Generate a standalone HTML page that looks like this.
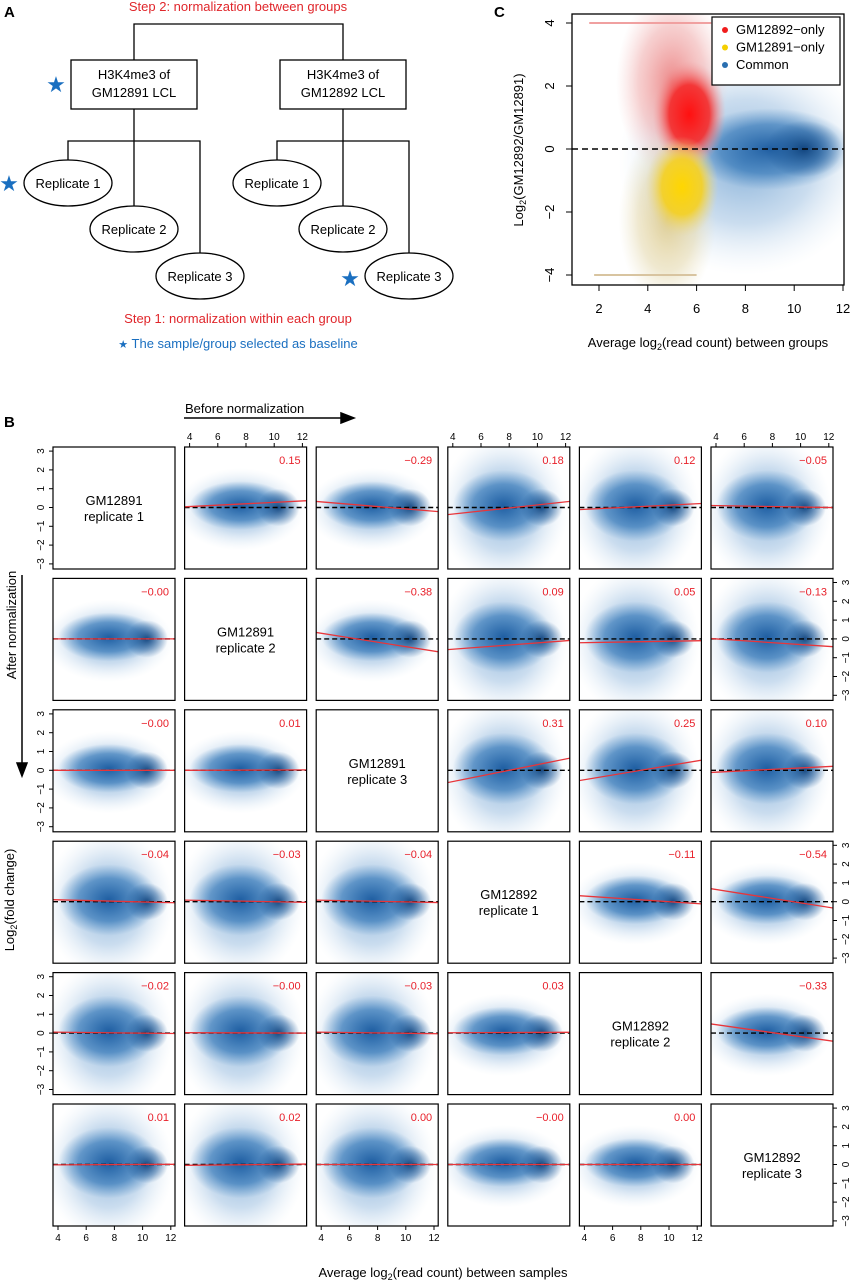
<!DOCTYPE html>
<html><head><meta charset="utf-8">
<style>
html,body{margin:0;padding:0;background:#fff;}
svg{display:block;font-family:"Liberation Sans",Arial,sans-serif;}
</style></head>
<body>
<svg id="fig" width="850" height="1280" viewBox="0 0 850 1280" xmlns="http://www.w3.org/2000/svg">
<defs>
<radialGradient id="gLight"><stop offset="0" stop-color="#4f8cc6" stop-opacity="0.7"/><stop offset="0.55" stop-color="#8ab3db" stop-opacity="0.45"/><stop offset="1" stop-color="#d2e3f2" stop-opacity="0"/></radialGradient>
<radialGradient id="gCore"><stop offset="0" stop-color="#1a5a9f" stop-opacity="0.95"/><stop offset="0.6" stop-color="#2f74b6" stop-opacity="0.65"/><stop offset="1" stop-color="#4a8ac4" stop-opacity="0"/></radialGradient>
<radialGradient id="gSpot"><stop offset="0" stop-color="#0b3e78" stop-opacity="0.9"/><stop offset="0.6" stop-color="#1b5797" stop-opacity="0.45"/><stop offset="1" stop-color="#1b5797" stop-opacity="0"/></radialGradient>
<radialGradient id="gRed"><stop offset="0" stop-color="#ff1010" stop-opacity="1"/><stop offset="0.55" stop-color="#f42a2a" stop-opacity="0.9"/><stop offset="1" stop-color="#f4a0a0" stop-opacity="0"/></radialGradient>
<radialGradient id="gPink"><stop offset="0" stop-color="#e86a6a" stop-opacity="0.8"/><stop offset="0.6" stop-color="#eea0a0" stop-opacity="0.5"/><stop offset="1" stop-color="#f2c0c0" stop-opacity="0"/></radialGradient>
<radialGradient id="gYel"><stop offset="0" stop-color="#ffd600" stop-opacity="1"/><stop offset="0.55" stop-color="#f5d020" stop-opacity="0.9"/><stop offset="1" stop-color="#e8d99a" stop-opacity="0"/></radialGradient>
<radialGradient id="gTan"><stop offset="0" stop-color="#d8c27a" stop-opacity="0.8"/><stop offset="0.6" stop-color="#e0d2a0" stop-opacity="0.5"/><stop offset="1" stop-color="#e8e0c0" stop-opacity="0"/></radialGradient>
</defs>

<!-- Panel A -->
<g font-size="13" fill="#000">
<text x="4" y="17" font-weight="bold" font-size="15">A</text>
<text x="238" y="11" fill="#e0262b" text-anchor="middle">Step 2: normalization between groups</text>
<path d="M134 60V24H343V60" fill="none" stroke="#000" stroke-width="1.3"/>
<rect x="71" y="60" width="126" height="49" fill="#fff" stroke="#000" stroke-width="1.3"/>
<text x="134" y="79" text-anchor="middle">H3K4me3 of</text><text x="134" y="97" text-anchor="middle">GM12891 LCL</text>
<rect x="280" y="60" width="126" height="49" fill="#fff" stroke="#000" stroke-width="1.3"/>
<text x="343" y="79" text-anchor="middle">H3K4me3 of</text><text x="343" y="97" text-anchor="middle">GM12892 LCL</text>
<path d="M134 109V208M68 161V141H200V255" fill="none" stroke="#000" stroke-width="1.3"/>
<path d="M343 109V208M277 161V141H409V255" fill="none" stroke="#000" stroke-width="1.3"/>
<g><ellipse cx="68" cy="183" rx="44" ry="23" fill="#fff" stroke="#000" stroke-width="1.3"/><text x="68" y="188" text-anchor="middle">Replicate 1</text></g>
<g><ellipse cx="134" cy="229" rx="44" ry="23" fill="#fff" stroke="#000" stroke-width="1.3"/><text x="134" y="234" text-anchor="middle">Replicate 2</text></g>
<g><ellipse cx="200" cy="276" rx="44" ry="23" fill="#fff" stroke="#000" stroke-width="1.3"/><text x="200" y="281" text-anchor="middle">Replicate 3</text></g>
<g><ellipse cx="277" cy="183" rx="44" ry="23" fill="#fff" stroke="#000" stroke-width="1.3"/><text x="277" y="188" text-anchor="middle">Replicate 1</text></g>
<g><ellipse cx="343" cy="229" rx="44" ry="23" fill="#fff" stroke="#000" stroke-width="1.3"/><text x="343" y="234" text-anchor="middle">Replicate 2</text></g>
<g><ellipse cx="409" cy="276" rx="44" ry="23" fill="#fff" stroke="#000" stroke-width="1.3"/><text x="409" y="281" text-anchor="middle">Replicate 3</text></g>
<text x="56" y="92" fill="#1a6fc0" font-size="22" text-anchor="middle">★</text>
<text x="9" y="191" fill="#1a6fc0" font-size="22" text-anchor="middle">★</text>
<text x="350" y="286" fill="#1a6fc0" font-size="22" text-anchor="middle">★</text>
<text x="238" y="323" fill="#e0262b" text-anchor="middle">Step 1: normalization within each group</text>
<text x="238" y="348" fill="#1a6fc0" text-anchor="middle"><tspan font-size="11">★</tspan> The sample/group selected as baseline</text>
</g>

<g id="panelC"></g>
<g id="panelB"></g>
</svg>

<script>
// ---------- Panel C data ----------
const cXTicks = [2, 4, 6, 8, 10, 12];
const cYTicks = [-4, -2, 0, 2, 4];
const cLegendLabels = ["GM12892\u2212only", "GM12891\u2212only", "Common"];
const cLegendColors = ["#f01c1c", "#f5cf00", "#2a6fb0"];
const cClusterX = [5.8, 5.4, 10.4];
const cClusterY = [0.9, -1.0, 0.0];

// ---------- Panel B data ----------
const bLabels = [
 ["", "0.15", "\u22120.29", "0.18", "0.12", "\u22120.05"],
 ["\u22120.00", "", "\u22120.38", "0.09", "0.05", "\u22120.13"],
 ["\u22120.00", "0.01", "", "0.31", "0.25", "0.10"],
 ["\u22120.04", "\u22120.03", "\u22120.04", "", "\u22120.11", "\u22120.54"],
 ["\u22120.02", "\u22120.00", "\u22120.03", "0.03", "", "\u22120.33"],
 ["0.01", "0.02", "0.00", "\u22120.00", "0.00", ""]
];
const bRedLeft = [
 [0, 0.05, 0.30, -0.35, -0.10, 0.10],
 [0, 0, 0.30, -0.55, -0.20, 0.00],
 [0, 0, 0, -0.60, -0.50, -0.10],
 [0.10, 0.08, 0.08, 0, 0.30, 0.65],
 [0.05, 0.02, 0.05, 0.02, 0, 0.45],
 [-0.02, -0.04, 0.00, 0.00, 0.00, 0]
];
const bRedRight = [
 [0, 0.35, -0.20, 0.30, 0.20, 0.00],
 [0, 0, -0.65, -0.10, -0.10, -0.40],
 [0, 0.02, 0, 0.60, 0.50, 0.20],
 [-0.05, -0.03, -0.04, 0, -0.10, -0.30],
 [-0.02, 0.00, -0.03, 0.04, 0, -0.40],
 [0.01, 0.02, 0.00, 0.00, 0.00, 0]
];
const bWide = [
 [0, 0, 0, 1, 1, 1],
 [0, 0, 0, 1, 1, 1],
 [0, 0, 0, 1, 1, 1],
 [1, 1, 1, 0, 0, 0],
 [1, 1, 1, 0, 0, 0],
 [1, 1, 1, 0, 0, 0]
];
const bDiagNames = ["GM12891", "GM12891", "GM12891", "GM12892", "GM12892", "GM12892"];
const bDiagReps = ["replicate 1", "replicate 2", "replicate 3", "replicate 1", "replicate 2", "replicate 3"];
const bXTicks = [4, 6, 8, 10, 12];
const bYTicks = [-3, -2, -1, 0, 1, 2, 3];

const NS = "http://www.w3.org/2000/svg";
function mk(parent, tag, attrs, txt) {
  const e = document.createElementNS(NS, tag);
  for (const k in attrs) e.setAttribute(k, attrs[k]);
  if (txt !== undefined) e.textContent = txt;
  parent.appendChild(e);
  return e;
}

// ---------- Panel C ----------
(function () {
  const g = document.getElementById('panelC');
  const L = 572, R = 844, T = 14, B = 285;
  const xs = v => 599 + (v - 2) * 24.4;
  const ys = v => 149 - v * 31.5;
  const t = mk(g, 'text', {x: 494, y: 17, 'font-size': 15, 'font-weight': 'bold'}, 'C');
  
  
  const clipC = mk(document.querySelector('defs'), 'clipPath', {id: 'clipC'});
  mk(clipC, 'rect', {x: L, y: T, width: R - L, height: B - T});
  const plot = mk(g, 'g', {'clip-path': 'url(#clipC)'});
  
  
  const cloud = mk(plot, 'ellipse', {cx: xs(8.0), cy: ys(-0.4), rx: 5.2 * 24.4, ry: 3.6 * 31.5, fill: 'url(#gLight)'});
  
  
  const core = mk(plot, 'ellipse', {cx: xs(cClusterX[2] - 1.4), cy: ys(cClusterY[2]), rx: 3.4 * 24.4, ry: 1.3 * 31.5, fill: 'url(#gCore)'});
  
  
  const spot = mk(plot, 'ellipse', {cx: xs(cClusterX[2]), cy: ys(cClusterY[2]), rx: 1.6 * 24.4, ry: 0.9 * 31.5, fill: 'url(#gSpot)'});
  
  
  const pink = mk(plot, 'ellipse', {cx: xs(cClusterX[0] - 0.8), cy: ys(cClusterY[0] + 1.2), rx: 2.3 * 24.4, ry: 3.0 * 31.5, fill: 'url(#gPink)'});
  
  
  const tan = mk(plot, 'ellipse', {cx: xs(cClusterX[1] - 0.6), cy: ys(cClusterY[1] - 1.2), rx: 2.0 * 24.4, ry: 2.8 * 31.5, fill: 'url(#gTan)'});
  
  
  const red = mk(plot, 'ellipse', {cx: xs(cClusterX[0] - 0.1), cy: ys(cClusterY[0] + 0.2), rx: 1.5 * 24.4, ry: 1.7 * 31.5, fill: 'url(#gRed)'});
  
  
  const yel = mk(plot, 'ellipse', {cx: xs(cClusterX[1]), cy: ys(cClusterY[1] - 0.2), rx: 1.5 * 24.4, ry: 1.6 * 31.5, fill: 'url(#gYel)'});
  
  
  const capTop = mk(plot, 'line', {x1: xs(1.6), x2: xs(6.6), y1: ys(4), y2: ys(4), stroke: '#f0a0a0', 'stroke-width': 2});
  
  
  const capBot = mk(plot, 'line', {x1: xs(1.8), x2: xs(6.0), y1: ys(-4), y2: ys(-4), stroke: '#d8c4a0', 'stroke-width': 2});
  
  
  const zero = mk(g, 'line', {x1: L, x2: R, y1: ys(0), y2: ys(0), stroke: '#000', 'stroke-width': 1.5, 'stroke-dasharray': '6,4'});
  
  
  const box = mk(g, 'rect', {x: L, y: T, width: R - L, height: B - T, fill: 'none', stroke: '#000', 'stroke-width': 1.3});
  
  
  cXTicks.forEach(v => {
    mk(g, 'line', {x1: xs(v), x2: xs(v), y1: B, y2: B + 6, stroke: '#000'});
    const tl = mk(g, 'text', {x: xs(v), y: 313, 'font-size': 13, 'text-anchor': 'middle'}, String(v));
    
    
  });
  cYTicks.forEach(v => {
    mk(g, 'line', {x1: L, x2: L - 6, y1: ys(v), y2: ys(v), stroke: '#000'});
    const s = v < 0 ? '\u2212' + Math.abs(v) : String(v);
    const tl = mk(g, 'text', {x: 0, y: 0, 'font-size': 13, 'text-anchor': 'middle', transform: `translate(554,${ys(v)}) rotate(-90)`}, s);
    
    
  });
  const xt = mk(g, 'text', {x: 708, y: 347, 'font-size': 13, 'text-anchor': 'middle'});
  
  
  xt.innerHTML = 'Average log<tspan font-size="9" dy="3">2</tspan><tspan dy="-3">(read count) between groups</tspan>';
  const yt = mk(g, 'text', {x: 0, y: 0, 'font-size': 13, 'text-anchor': 'middle', transform: 'translate(523,150) rotate(-90)'});
  
  
  yt.innerHTML = 'Log<tspan font-size="9" dy="3">2</tspan><tspan dy="-3">(GM12892/GM12891)</tspan>';
  const lg = mk(g, 'g', {});
  
  
  mk(lg, 'rect', {x: 712, y: 17, width: 128, height: 68, fill: '#fff', stroke: '#000', 'stroke-width': 1.2});
  cLegendLabels.forEach((lab, i) => {
    const e = mk(lg, 'g', {});
    
    
    mk(e, 'circle', {cx: 725, cy: 34 + i * 17.5 - 4, r: 3, fill: cLegendColors[i]});
    mk(e, 'text', {x: 736, y: 34 + i * 17.5, 'font-size': 13}, lab);
  });
})();

// ---------- Panel B ----------
(function () {
  const g = document.getElementById('panelB');
  const W = 122, H = 122;
  const colX = c => 53 + c * 131.6;
  const rowY = r => 447 + r * 131.4;
  const px = (c, v) => colX(c) + 5 + (v - 4) * 14.1;
  const py = (r, v) => rowY(r) + 60.5 - v * 18.8;
  const defs = document.querySelector('defs');

  const bl = mk(g, 'text', {x: 4, y: 427, 'font-size': 15, 'font-weight': 'bold'}, 'B');
  
  
  const bn = mk(g, 'text', {x: 185, y: 413, 'font-size': 13}, 'Before normalization');
  
  
  const ba = mk(g, 'path', {d: 'M184 418H343M341 413L354 418L341 423Z', stroke: '#000', 'stroke-width': 1.5, fill: '#000'});
  
  
  const an = mk(g, 'text', {x: 0, y: 0, 'font-size': 13, 'text-anchor': 'middle', transform: 'translate(16,625) rotate(-90)'}, 'After normalization');
  
  
  const aa = mk(g, 'path', {d: 'M22 575V765M17 763L22 776L27 763Z', stroke: '#000', 'stroke-width': 1.5, fill: '#000'});
  
  
  const ylab = mk(g, 'text', {x: 0, y: 0, 'font-size': 13, 'text-anchor': 'middle', transform: 'translate(14,900) rotate(-90)'});
  
  
  ylab.innerHTML = 'Log<tspan font-size="9" dy="3">2</tspan><tspan dy="-3">(fold change)</tspan>';
  const xlab = mk(g, 'text', {x: 443, y: 1277, 'font-size': 13, 'text-anchor': 'middle'});
  
  
  xlab.innerHTML = 'Average log<tspan font-size="9" dy="3">2</tspan><tspan dy="-3">(read count) between samples</tspan>';

  for (let r = 0; r < 6; r++) {
    for (let c = 0; c < 6; c++) {
      const x0 = colX(c), y0 = rowY(r);
      const pg = mk(g, 'g', {});
      
      
      if (r === c) {
        mk(pg, 'rect', {x: x0, y: y0, width: W, height: H, fill: '#fff', stroke: '#000', 'stroke-width': 1.2});
        const t1 = mk(pg, 'text', {x: x0 + W / 2, y: y0 + 58, 'font-size': 13, 'text-anchor': 'middle'}, bDiagNames[r]);
        
        
        const t2 = mk(pg, 'text', {x: x0 + W / 2, y: y0 + 74, 'font-size': 13, 'text-anchor': 'middle'}, bDiagReps[r]);
        
        
      } else {
        const cp = mk(defs, 'clipPath', {id: 'cp' + r + c});
        mk(cp, 'rect', {x: x0, y: y0, width: W, height: H});
        const pl = mk(pg, 'g', {'clip-path': 'url(#cp' + r + c + ')'});
        const wide = bWide[r][c];
        const cy0 = py(r, 0.1);
        const light = mk(pl, 'ellipse', {cx: px(c, 7.6), cy: py(r, -0.1), rx: 4.6 * 14.1, ry: (wide ? 4.0 : 2.2) * 18.8, fill: 'url(#gLight)'});
        
        
        const core = mk(pl, 'ellipse', {cx: px(c, 7.6), cy: cy0, rx: 3.6 * 14.1, ry: (wide ? 1.9 : 1.3) * 18.8, fill: 'url(#gCore)'});
        
        
        const spot = mk(pl, 'ellipse', {cx: px(c, 10.3), cy: py(r, 0), rx: 1.5 * 14.1, ry: 1.0 * 18.8, fill: 'url(#gSpot)'});
        
        
        const dash = mk(pl, 'line', {x1: x0, x2: x0 + W, y1: py(r, 0), y2: py(r, 0), stroke: '#000', 'stroke-width': 1.4, 'stroke-dasharray': '5,3'});
        
        
        const a = bRedLeft[r][c], b = bRedRight[r][c];
        const vAt = x => a + (b - a) * (x - 4) / 8;
        const xl = 3.5, xr = 12.5;
        const rl = mk(pl, 'line', {x1: px(c, xl), x2: px(c, xr), y1: py(r, vAt(xl)), y2: py(r, vAt(xr)), stroke: '#e8353a', 'stroke-width': 1.3});
        
        
        mk(pg, 'rect', {x: x0, y: y0, width: W, height: H, fill: 'none', stroke: '#000', 'stroke-width': 1.2});
        const vl = mk(pg, 'text', {x: x0 + W - 6, y: y0 + 17, 'font-size': 11, fill: '#e8202a', 'text-anchor': 'end'}, bLabels[r][c]);
        
        
      }
      const topAxis = r === 0 && (c === 1 || c === 3 || c === 5);
      const botAxis = r === 5 && (c === 0 || c === 2 || c === 4);
      const leftAxis = c === 0 && (r === 0 || r === 2 || r === 4);
      const rightAxis = c === 5 && (r === 1 || r === 3 || r === 5);
      if (topAxis || botAxis) {
        const ax = mk(pg, 'g', {});
        
        
        const yb = topAxis ? y0 : y0 + H;
        bXTicks.forEach(v => {
          mk(ax, 'line', {x1: px(c, v), x2: px(c, v), y1: yb, y2: topAxis ? yb - 4 : yb + 4, stroke: '#000'});
          mk(ax, 'text', {x: px(c, v), y: topAxis ? yb - 7 : yb + 15, 'font-size': 10, 'text-anchor': 'middle'}, String(v));
        });
      }
      if (leftAxis || rightAxis) {
        const ax = mk(pg, 'g', {});
        
        
        const xb = leftAxis ? x0 : x0 + W;
        bYTicks.forEach(v => {
          mk(ax, 'line', {x1: xb, x2: leftAxis ? xb - 4 : xb + 4, y1: py(r, v), y2: py(r, v), stroke: '#000'});
          const s = v < 0 ? '\u2212' + Math.abs(v) : String(v);
          const tx = leftAxis ? xb - 9 : xb + 9;
          mk(ax, 'text', {x: 0, y: 0, 'font-size': 10, 'text-anchor': 'middle', transform: `translate(${tx + (leftAxis ? 0 : 7)},${py(r, v)}) rotate(-90)`}, s);
        });
      }
    }
  }
})();
</script>
</body></html>
